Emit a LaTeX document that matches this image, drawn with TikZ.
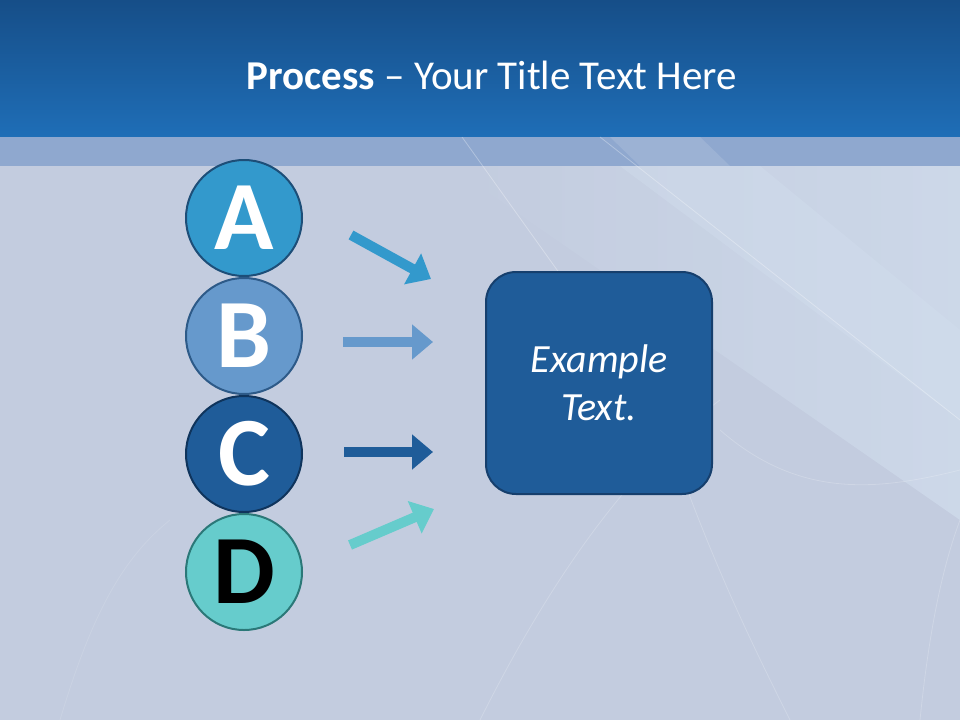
\documentclass[tikz,border=0pt]{standalone}
\usepackage{fontspec}
\setmainfont{Carlito}
\usetikzlibrary{arrows.meta}
\definecolor{bandtop}{HTML}{164E88}
\definecolor{bandbot}{HTML}{1F6EB7}
\definecolor{stripe}{HTML}{8FA8CF}
\definecolor{bgbase}{HTML}{C3CCDF}
\definecolor{bglight}{HTML}{D3E0EF}
\definecolor{cA}{HTML}{3399CC}
\definecolor{cAb}{HTML}{1D4E78}
\definecolor{cB}{HTML}{6699CC}
\definecolor{cBb}{HTML}{2D5A88}
\definecolor{cC}{HTML}{1F5C99}
\definecolor{cCb}{HTML}{0F345C}
\definecolor{cD}{HTML}{66CCCC}
\definecolor{cDb}{HTML}{2B7878}
\definecolor{boxb}{HTML}{163F6D}
\tikzset{
  letter/.style={circle, minimum size=116pt, inner sep=0pt, line width=2pt,
    font=\fontsize{98}{98}\selectfont\bfseries},
  flow/.style={line width=10pt, -{Triangle[width=34pt,length=21pt]}},
  streak/.style={white, line width=0.8pt, opacity=0.3},
}
\begin{document}
\begin{tikzpicture}[x=1pt,y=-1pt]
\useasboundingbox (0,0) rectangle (960,720);
% background
\fill[bgbase] (0,137) rectangle (960,720);
\shade[left color=bgbase, right color=bglight, opacity=0.6] (450,166) -- (960,166) -- (960,520) -- cycle;
\fill[bglight, opacity=0.35] (620,166) -- (760,166) -- (960,330) -- (960,420) -- cycle;
\shade[top color=bandtop, bottom color=bandbot] (0,0) rectangle (960,137);
\fill[stripe] (0,137) rectangle (960,166);
\fill[white, opacity=0.12] (610,137) -- (700,137) -- (730,166) -- (640,166) -- cycle;
% streaks
\draw[streak] (462,137) -- (600,330);
\draw[streak] (600,137) -- (960,420);
\draw[streak, opacity=0.2] (720,430) .. controls (800,500) and (880,490) .. (960,470);
\draw[streak, opacity=0.2] (480,720) .. controls (560,560) and (640,460) .. (720,400);
\draw[streak, opacity=0.2] (680,470) .. controls (720,580) and (760,660) .. (790,720);
\draw[streak, opacity=0.2] (920,720) .. controls (930,620) and (945,560) .. (960,520);
\draw[streak, opacity=0.12] (60,720) .. controls (90,620) and (120,560) .. (170,520);
% title
\node (title) at (492,75) {\fontsize{41}{41}\selectfont\color{white}\textbf{Process} – Your Title Text Here};
% circles
\node[letter, fill=cA, draw=cAb, text=white] (A) at (244,218) {A};
\node[letter, fill=cB, draw=cBb, text=white] (B) at (244,336) {B};
\node[letter, fill=cC, draw=cCb, text=white] (C) at (244,454) {C};
\node[letter, fill=cD, draw=cDb, text=black] (D) at (244,572) {D};
% box
\node[draw=boxb, line width=2pt, fill=cC, rounded corners=30pt,
  minimum width=226pt, minimum height=222pt, align=center, text=white,
  font=\fontsize{40}{48}\selectfont\itshape] (box) at (599,383) {Example\\Text.};
% arrows
\coordinate (a1) at (351,235); \coordinate (a2) at (431,279);
\coordinate (b1) at (343,342); \coordinate (b2) at (433,342);
\coordinate (c1) at (344,452); \coordinate (c2) at (433,452);
\coordinate (d1) at (350,545); \coordinate (d2) at (434,509);
\draw[flow, cA] (a1) -- (a2);
\draw[flow, cB] (b1) -- (b2);
\draw[flow, cC] (c1) -- (c2);
\draw[flow, cD] (d1) -- (d2);
\end{tikzpicture}
\end{document}
